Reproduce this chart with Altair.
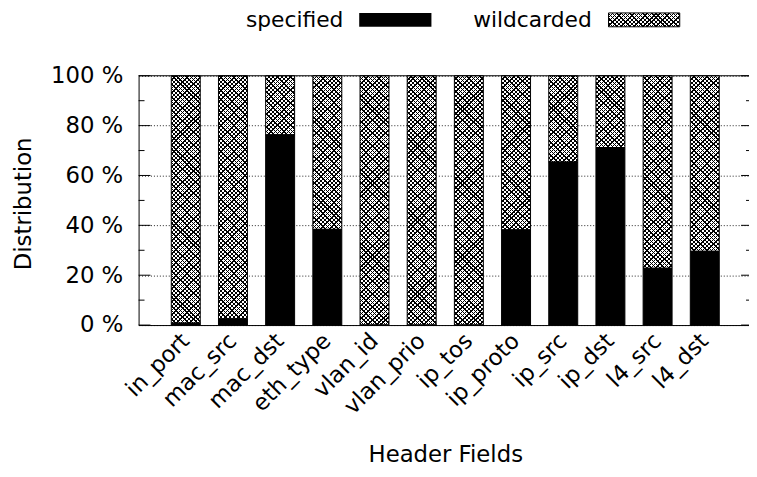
import altair as alt

# ---- data ----
categories = ["in_port", "mac_src", "mac_dst", "eth_type", "vlan_id", "vlan_prio",
              "ip_tos", "ip_proto", "ip_src", "ip_dst", "l4_src", "l4_dst"]
specified = [0.8, 2.5, 76.3, 38.4, 0.0, 0.0, 0.0, 38.2, 65.4, 71.2, 22.8, 29.6]
wildcarded = [99.2, 97.5, 23.7, 61.6, 100.0, 100.0, 100.0, 61.8, 34.6, 28.8, 77.2, 70.4]
series = ["specified", "wildcarded"]
y_ticks = [0, 20, 40, 60, 80, 100]
y_minor = [10, 30, 50, 70, 90]

# ---- styling / layout ----
FONT = "DejaVu Sans"
FS = 23
LFS = 22
W, H = 617, 252
RANGE = 620
P_INNER = 0.386
P_OUTER = 0.693
STEP = RANGE / (len(categories) - P_INNER + 2 * P_OUTER)
BAR_W = STEP * (1 - P_INNER)


def hatch(w, h, diag, bg, ink="black", pitch=4.4, th=1.4):
    """Linear gradient with sharp stops giving 45-degree stripes on a w x h box."""
    L = w + h
    k = L / (w * w + h * h)
    stops = [{"offset": 0, "color": bg}]
    i = 0
    while True:
        c = i * pitch
        a = (c - th / 2) / L
        b = (c + th / 2) / L
        if a >= 1:
            break
        a = round(max(a, 0.0), 5)
        b = round(min(b, 1.0), 5)
        stops += [{"offset": a, "color": bg}, {"offset": a, "color": ink},
                  {"offset": b, "color": ink}, {"offset": b, "color": bg}]
        i += 1
    stops.append({"offset": 1, "color": bg})
    if diag == 1:
        return {"gradient": "linear", "x1": 0, "y1": 0, "x2": k * w, "y2": k * h, "stops": stops}
    return {"gradient": "linear", "x1": 0, "y1": 1, "x2": k * w, "y2": 1 - k * h, "stops": stops}


CLEAR = "rgba(255,255,255,0)"
rows = []
for c, s, wv in zip(categories, specified, wildcarded):
    hpx = wv * H / 100.0
    rows.append({"category": c, "spec": s, "top": s + wv,
                 "g1": hatch(BAR_W, hpx, 1, "white"),
                 "g2": hatch(BAR_W, hpx, 2, CLEAR)})
data = alt.Data(values=rows)

y_scale = alt.Scale(domain=[0, 100], nice=False)
x_axis = alt.Axis(title="Header Fields", labelAngle=-45, labelAlign="right",
                  labelBaseline="middle", labelPadding=12, ticks=False, tickSize=0,
                  labelOverlap=False, labelFont=FONT, labelFontSize=FS, labelColor="black",
                  domainColor="black", grid=False, titleFont=FONT, titleFontSize=FS,
                  titleFontWeight="normal", titleColor="black", titleY=138,
                  titleBaseline="alphabetic")
x_enc = alt.X(
    "category:N", sort=categories,
    scale=alt.Scale(range=[0, RANGE], paddingInner=P_INNER, paddingOuter=P_OUTER, round=False),
    axis=x_axis,
)
y_axis = alt.Axis(values=y_ticks, labelExpr="datum.value + ' %'",
                  ticks=False, tickSize=0, labelPadding=16, labelFont=FONT, labelFontSize=FS,
                  labelColor="black", labelOverlap=False, grid=True, gridColor="#222",
                  gridDash=[1, 2], gridWidth=1, domainColor="black", titleFont=FONT,
                  titleFontSize=FS, titleFontWeight="normal", titleColor="black",
                  titleAngle=-90, titleX=-109, titleY=129, titleBaseline="alphabetic",
                  titleAlign="center")
Y_TITLE = "Distribution"

wild1 = alt.Chart(data).mark_bar(strokeWidth=0).encode(
    x=x_enc,
    y=alt.Y("top:Q", scale=y_scale, axis=y_axis, title=Y_TITLE, stack=None),
    y2="spec:Q",
    fill=alt.Fill("g1:N", scale=None),
)
wild2 = alt.Chart(data).mark_bar(stroke="black", strokeWidth=1).encode(
    x=x_enc,
    y=alt.Y("top:Q", scale=y_scale, axis=y_axis, title=Y_TITLE, stack=None),
    y2="spec:Q",
    fill=alt.Fill("g2:N", scale=None),
)
spec_bars = alt.Chart(data).mark_bar(color="black", stroke="black", strokeWidth=1).encode(
    x=x_enc,
    y=alt.Y("spec:Q", scale=y_scale, axis=y_axis, title=Y_TITLE, stack=None),
)


def ticks(values, x0, x1):
    return alt.Chart(alt.Data(values=[{"v": v} for v in values])).mark_rule(
        color="black", strokeWidth=1).encode(
        y=alt.Y("v:Q", scale=y_scale, axis=y_axis, title=Y_TITLE),
        x=alt.value(x0), x2=alt.value(x1))


tick_layers = [ticks(y_ticks, 0, 12), ticks(y_minor, 0, 6),
               ticks(y_ticks, RANGE, RANGE - 11), ticks(y_minor, RANGE, RANGE - 6)]

top_border = alt.Chart(alt.Data(values=[{"b": 1}])).mark_rule(color="black", strokeWidth=1).encode(
    y=alt.value(0), x=alt.value(0), x2=alt.value(RANGE))

# ---- legend (label left of sample, gnuplot style) ----
LY0, LY1 = -63.5, -49.5
LBASE = -49.0
leg_text = [
    alt.Chart(alt.Data(values=[{"name": series[0]}])).mark_text(
        align="right", baseline="alphabetic", font=FONT, fontSize=LFS, color="black").encode(
        x=alt.value(207), y=alt.value(LBASE), text="name:N"),
    alt.Chart(alt.Data(values=[{"name": series[1]}])).mark_text(
        align="right", baseline="alphabetic", font=FONT, fontSize=LFS, color="black").encode(
        x=alt.value(458), y=alt.value(LBASE), text="name:N"),
]
leg_spec = alt.Chart(alt.Data(values=[{"name": series[0]}])).mark_rect(color="black").encode(
    x=alt.value(223), x2=alt.value(296), y=alt.value(LY0), y2=alt.value(LY1))
LW, LH = 72, LY1 - LY0
leg_w1 = alt.Chart(alt.Data(values=[{"name": series[1]}])).mark_rect(
    fill=hatch(LW, LH, 1, "white"), strokeWidth=0).encode(
    x=alt.value(475), x2=alt.value(475 + LW), y=alt.value(LY0), y2=alt.value(LY1))
leg_w2 = alt.Chart(alt.Data(values=[{"name": series[1]}])).mark_rect(
    fill=hatch(LW, LH, 2, CLEAR), stroke="black", strokeWidth=1).encode(
    x=alt.value(475), x2=alt.value(475 + LW), y=alt.value(LY0), y2=alt.value(LY1))

chart = alt.layer(
    wild1, wild2, spec_bars, *tick_layers, top_border, *leg_text, leg_spec, leg_w1, leg_w2
).properties(
    width=W, height=H,
    autosize=alt.AutoSizeParams(type="none"),
    padding={"left": 132, "top": 66, "right": 0, "bottom": 143},
    background="white",
).configure_view(stroke=None)

chart.save("out.html", embed_options={"renderer": "svg", "actions": False})
